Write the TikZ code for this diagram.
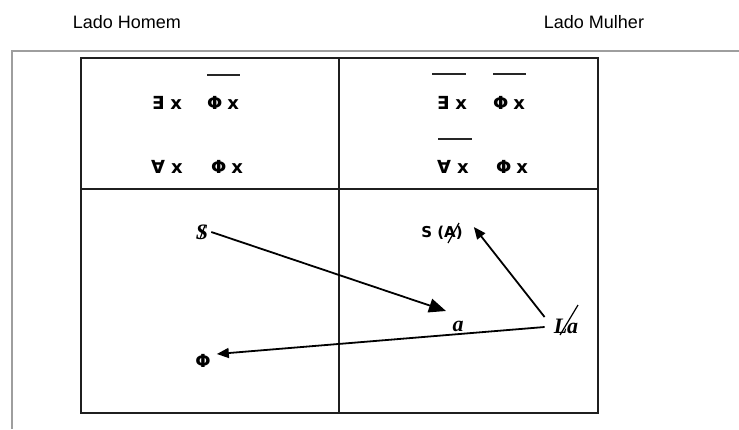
\documentclass[tikz,border=0pt]{standalone}
\usepackage{fontspec}
\newfontfamily\hdr{Liberation Sans}
\newfontfamily\sym{DejaVu Sans}
\newfontfamily\ser{Liberation Serif}
\usetikzlibrary{arrows.meta}
\begin{document}
\begin{tikzpicture}[x=1pt,y=-1pt,
  header/.style={font=\hdr\fontsize{18}{20}\selectfont, inner sep=0pt},
  quant/.style={font=\sym\bfseries\fontsize{18}{20}\selectfont, inner sep=0pt, anchor=west},
  lbl/.style={inner sep=1pt},
  ital/.style={inner sep=1pt, font=\ser\itshape\bfseries\fontsize{22}{24}\selectfont},
  box/.style={draw=black!88, line width=2.2pt},
  frame/.style={draw=black!38, line width=1.8pt},
  bar/.style={draw=black!85, line width=1.8pt},
  arr/.style={draw=black, line width=1.8pt, -{Triangle[length=12pt,width=10pt]}},
  bigarr/.style={draw=black, line width=1.8pt, -{Triangle[length=17pt,width=14pt]}},
  slash/.style={draw=black, line width=1.2pt}]
\useasboundingbox (0,0) rectangle (739,429);
% outer gray frame
\draw[frame] (739,51) -- (12,51) -- (12,429);
% headers
\node[header] (lh) at (127,22) {Lado Homem};
\node[header] (lm) at (594,22) {Lado Mulher};
% table
\draw[box] (81,58) rectangle (598,413);
\draw[box] (339,58) -- (339,413);
\draw[box] (81,189) -- (598,189);
% top-left
\node[quant] (e1) at (152,103) {∃\hspace{6pt}x};
\node[quant] (p1) at (207,103) {Φ\hspace{5pt}x};
\node[quant] (a1) at (151,167) {∀\hspace{6pt}x};
\node[quant] (p2) at (211,167) {Φ\hspace{5pt}x};
\draw[bar] (207,75) -- (240,75);
% top-right
\node[quant] (e2) at (437,103) {∃\hspace{6pt}x};
\node[quant] (p3) at (493,103) {Φ\hspace{5pt}x};
\node[quant] (a2) at (437,167) {∀\hspace{6pt}x};
\node[quant] (p4) at (496,167) {Φ\hspace{5pt}x};
\draw[bar] (432,74) -- (466,74);
\draw[bar] (493,74) -- (526,74);
\draw[bar] (438,139) -- (472,139);
% bottom
\node[ital] (S) at (202,232) {S};
\draw[slash] ([xshift=-2pt,yshift=2pt]S.south) -- ([xshift=3pt,yshift=-2pt]S.north);
\node[lbl, font=\sym\bfseries\fontsize{18}{20}\selectfont] (Phi) at (203,361) {Φ};
\node[lbl, font=\sym\bfseries\fontsize{15}{17}\selectfont] (SA) at (442,233) {S (A)};
\draw[slash] (448,243) -- (459,223);
\node[ital] (a) at (458,326) {a};
\node[ital] (La) at (566,326) {La};
\draw[slash] (560,335) -- (578,305);
\coordinate (atip) at (446,311);
\draw[bigarr] ([xshift=2pt]S.east) -- (atip);
\draw[arr] ([xshift=-8pt,yshift=9pt]La.west) -- ([xshift=10pt,yshift=6pt]SA.east);
\draw[arr] ([xshift=-8pt,yshift=-1pt]La.west) -- ([xshift=5pt,yshift=7pt]Phi.east);
\end{tikzpicture}
\end{document}
